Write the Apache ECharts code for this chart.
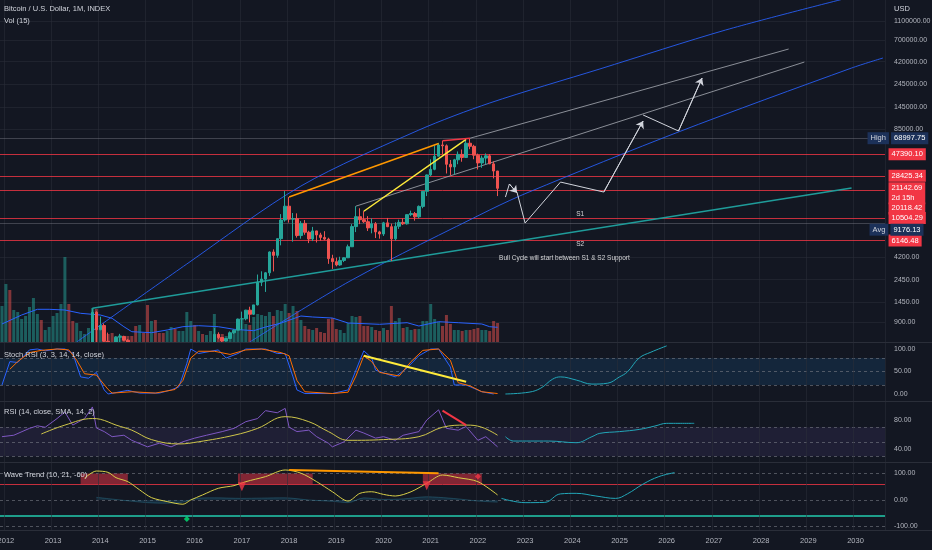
<!DOCTYPE html>
<html>
<head>
<meta charset="utf-8">
<title>Bitcoin / U.S. Dollar, 1M</title>
<script src="https://cdn.jsdelivr.net/npm/echarts@6.0.0/dist/echarts.min.js"></script>
<style>
    html, body { margin: 0; padding: 0; background: #131722; }
    #chart { width: 932px; height: 550px; }
</style>
</head>
<body>
<div id="chart"></div>
<script>
// ============================================================
// 数据
// ============================================================
const firstMonth = "2011-12";
const lastMonth = "2030-08";

// 月线 K 线，从 2011-12 起逐月：[open, close, low, high]
const ohlc = [
    [3.0, 4.7, 2.7, 4.8],
    [4.7, 5.5, 4.5, 7.4], [5.5, 4.9, 4.2, 6.2], [4.9, 4.9, 4.7, 5.4], [4.9, 5.0, 4.8, 5.3],
    [5.0, 5.2, 4.9, 5.3], [5.2, 6.7, 5.2, 6.7], [6.7, 9.4, 6.6, 9.6], [9.4, 10.2, 7.2, 16.4],
    [10.2, 12.4, 10.0, 12.7], [12.4, 11.2, 10.4, 12.6], [11.2, 12.6, 10.4, 12.8], [12.6, 13.5, 12.4, 13.9],
    [13.5, 20.4, 12.9, 20.4], [20.4, 33.4, 19.1, 33.4], [33.4, 93, 33, 95], [93, 139, 50, 266],
    [139, 129, 80, 140], [129, 97, 88, 129], [97, 106, 65, 111], [106, 136, 101, 136],
    [136, 141, 108, 145], [141, 206, 105, 218], [206, 1130, 198, 1242], [1130, 750, 520, 1160],
    [750, 828, 740, 1020], [828, 570, 420, 870], [570, 453, 445, 700], [453, 448, 360, 550],
    [448, 628, 420, 640], [628, 640, 550, 680], [640, 585, 575, 650], [585, 480, 440, 600],
    [480, 390, 375, 500], [390, 338, 300, 420], [338, 378, 320, 460], [378, 318, 310, 410],
    [318, 218, 165, 318], [218, 254, 210, 260], [254, 244, 235, 300], [244, 236, 215, 260],
    [236, 230, 225, 250], [230, 263, 220, 267], [263, 284, 252, 315], [284, 230, 200, 285],
    [230, 236, 225, 245], [236, 314, 235, 330], [314, 378, 300, 495], [378, 430, 350, 465],
    [430, 368, 355, 460], [368, 437, 365, 440], [437, 416, 395, 440], [416, 448, 413, 470],
    [448, 531, 437, 550], [531, 673, 530, 780], [673, 624, 600, 705], [624, 574, 470, 628],
    [574, 609, 570, 615], [609, 698, 605, 720], [698, 742, 680, 755], [742, 963, 742, 975],
    [963, 970, 750, 1150], [970, 1190, 935, 1200], [1190, 1080, 890, 1290], [1080, 1348, 1060, 1350],
    [1348, 2300, 1330, 2760], [2300, 2480, 2100, 2980], [2480, 2875, 1830, 2930], [2875, 4700, 2670, 4770],
    [4700, 4340, 2970, 5000], [4340, 6440, 4100, 6470], [6440, 10000, 5500, 11500], [10000, 13860, 9600, 19800],
    [13860, 10200, 9400, 17200], [10200, 10330, 6000, 11800], [10330, 6930, 6600, 11700], [6930, 9240, 6430, 9750],
    [9240, 7490, 7060, 9990], [7490, 6390, 5800, 7760], [6390, 7730, 6080, 8500], [7730, 7030, 5880, 7760],
    [7030, 6630, 6150, 7400], [6630, 6370, 6200, 7680], [6370, 4020, 3550, 6580], [4020, 3740, 3150, 4400],
    [3740, 3460, 3350, 4120], [3460, 3850, 3390, 4200], [3850, 4100, 3700, 4150], [4100, 5320, 4070, 5600],
    [5320, 8560, 5320, 9080], [8560, 10820, 7520, 13880], [10820, 10080, 9070, 13200], [10080, 9600, 9330, 12330],
    [9600, 8300, 7720, 10950], [8300, 9150, 7300, 10400], [9150, 7550, 6530, 9520], [7550, 7190, 6440, 7750],
    [7190, 9350, 6860, 9580], [9350, 8540, 8450, 10500], [8540, 6410, 3800, 9190], [6410, 8620, 6150, 9470],
    [8620, 9450, 8100, 10080], [9450, 9140, 8900, 10390], [9140, 11350, 8990, 11440], [11350, 11650, 10950, 12480],
    [11650, 10780, 9850, 12090], [10780, 13800, 10400, 14100], [13800, 19700, 13200, 19860], [19700, 28990, 17600, 29300],
    [28990, 33110, 28130, 41950], [33110, 45140, 32380, 58350], [45140, 58800, 44950, 61780], [58800, 57710, 47040, 64900],
    [57710, 37300, 30000, 59600], [37300, 35040, 28800, 41300], [35040, 41460, 29300, 42400], [41460, 47100, 37330, 50500],
    [47100, 43800, 39600, 52900], [43800, 61300, 43300, 67000], [61300, 57000, 53250, 69000], [57000, 46200, 42000, 59100],
    [46200, 38480, 32950, 47950], [38480, 43190, 34320, 45800], [43190, 45530, 37200, 48200], [45530, 37640, 37580, 47450],
    [37640, 31800, 26700, 40000], [31800, 21142.69, 17600, 31900],
];

// 成交量（相对高度），与 K 线逐月对应
const volume = [
    36, 58, 52, 32, 30, 23, 26, 35, 44, 28, 22, 12, 15,
    26, 29, 38, 85, 38, 21, 19, 11, 8, 14, 34, 33,
    17, 12, 8, 9, 6, 7, 6, 6, 6, 16, 17, 9,
    37, 21, 22, 9, 9, 11, 15, 13, 11, 11, 30, 21,
    17, 11, 8, 7, 11, 28, 8, 8, 6, 8, 10, 14,
    22, 18, 17, 25, 28, 27, 26, 30, 26, 32, 31, 38,
    29, 36, 31, 22, 16, 13, 12, 14, 10, 9, 23, 24,
    13, 12, 9, 19, 26, 25, 26, 16, 16, 15, 12, 11,
    14, 12, 36, 21, 24, 14, 15, 12, 13, 13, 21, 21,
    38, 23, 20, 16, 27, 18, 12, 12, 11, 12, 12, 13,
    14, 12, 12, 11, 21, 19,
];

const volumeMa = [
    ["2011-12", 18], ["2012-05", 27], ["2012-09", 32.7], ["2012-12", 32.7], ["2013-04", 32], ["2013-08", 28.7],
    ["2014-01", 27], ["2014-04", 23.7], ["2014-07", 15.3], ["2014-09", 10.3], ["2015-02", 9.3], ["2015-06", 12],
    ["2015-10", 15.3], ["2016-02", 16.3], ["2016-07", 15.3], ["2016-11", 12.7], ["2017-04", 11.3], ["2017-07", 15],
    ["2017-11", 19], ["2018-04", 26], ["2018-07", 25], ["2018-12", 24], ["2019-04", 19], ["2019-12", 17.7],
    ["2020-07", 19.3], ["2020-10", 16], ["2021-03", 20.3], ["2021-08", 19.3], ["2022-02", 18], ["2022-04", 15.3],
    ["2022-06", 14.7],
];

// 价格轴刻度与水平价位
const priceTicks = [1100000, 700000, 420000, 245000, 145000, 85000, 4200, 2450, 1450, 900];
const redLevels = [47390.10, 28425.34, 20118.42, 10504.29, 6146.48];
const highLevel = 68997.75;
const avgLevel = 9176.13;
const lastPrice = 21142.69;
const countdown = "2d 15h";

// 画线工具：[月份, 价格]
const blueUpper = [["2013-07", 561], ["2015-11", 3540], ["2018-04", 22300], ["2020-10", 83700],
    ["2022-04", 158500], ["2024-08", 354000], ["2027-04", 889000], ["2029-12", 1940000]];
const blueLower = [["2017-03", 561], ["2019-05", 2430], ["2022-04", 12670], ["2023-02", 19370],
    ["2026-04", 80000], ["2029-12", 362000], ["2030-08", 459000]];
const tealLine = [["2013-11", 1242], ["2029-12", 21300]];
const greyUpper = [["2021-11", 69000], ["2028-08", 567000]];
const greyLower = [["2019-06", 13880], ["2028-12", 417000]];
const orangeLine = [["2018-01", 17200], ["2021-03", 61000]];
const yellowLine = [["2019-08", 12300], ["2021-10", 67000]];
const redLine = [["2021-04", 64900], ["2021-11", 69000]];

// 预测路径（白色箭头）
const pathA = [["2022-08", 17200], ["2022-09", 23400], ["2022-11", 18900]];
const pathB = [["2022-11", 18900], ["2023-01", 9310], ["2023-10", 24500], ["2024-09", 19360], ["2025-07", 103600]];
const pathC = [["2025-07", 119400], ["2026-04", 81800], ["2026-10", 286000]];

const notes = [
    { name: "S1", value: ["2024-03", 11530] },
    { name: "S2", value: ["2024-03", 5675] },
    { name: "Bull Cycle will start between S1 & S2 Support", value: ["2023-11", 4075] },
];

// Stoch RSI
const stochK = [
    ["2011-12", 20], ["2012-02", 72], ["2012-04", 70], ["2012-07", 98], ["2012-09", 100], ["2012-11", 96],
    ["2013-02", 100], ["2013-04", 100], ["2013-06", 90], ["2013-08", 38], ["2013-10", 35], ["2013-12", 48],
    ["2014-02", 9], ["2014-03", 0], ["2014-08", 8], ["2014-11", 2], ["2015-04", 2], ["2015-07", 9],
    ["2015-09", 16], ["2015-11", 68], ["2015-12", 100], ["2016-02", 90], ["2016-07", 98], ["2016-09", 80],
    ["2016-12", 90], ["2017-02", 100], ["2017-07", 100], ["2017-10", 90], ["2017-12", 90], ["2018-02", 38],
    ["2018-03", 9], ["2018-05", 1], ["2018-12", 1], ["2019-04", 9], ["2019-07", 75], ["2019-08", 96],
    ["2019-10", 80], ["2019-11", 53], ["2020-04", 38], ["2020-07", 58], ["2020-10", 85], ["2021-01", 100],
    ["2021-03", 100], ["2021-06", 60], ["2021-07", 20], ["2021-10", 20], ["2022-02", 5], ["2022-05", 0],
];
const stochD = [
    ["2012-02", 55], ["2012-04", 72], ["2012-07", 92], ["2012-10", 97], ["2013-02", 100], ["2013-05", 98],
    ["2013-07", 75], ["2013-09", 45], ["2013-12", 42], ["2014-03", 10], ["2014-04", 2], ["2014-09", 5],
    ["2015-03", 2], ["2015-08", 10], ["2015-10", 30], ["2015-12", 80], ["2016-02", 95], ["2016-06", 95],
    ["2016-10", 88], ["2017-02", 98], ["2017-06", 100], ["2017-11", 92], ["2018-01", 85], ["2018-03", 30],
    ["2018-05", 5], ["2018-12", 1], ["2019-04", 4], ["2019-06", 40], ["2019-08", 85], ["2019-10", 72],
    ["2019-12", 48], ["2020-05", 40], ["2020-08", 72], ["2020-11", 97], ["2021-03", 100], ["2021-06", 75],
    ["2021-08", 25], ["2021-11", 18], ["2022-02", 5], ["2022-06", 1],
];
const stochTrend = [["2019-08", 85], ["2021-10", 27]];
const stochProj = [["2022-08", 0], ["2023-02", 4], ["2023-05", 13], ["2023-08", 33], ["2023-10", 38],
    ["2024-02", 31], ["2024-06", 22], ["2024-10", 24], ["2025-01", 38], ["2025-03", 49], ["2025-06", 80],
    ["2025-09", 93], ["2026-01", 107]];

// RSI
const rsi = [
    ["2011-12", 57], ["2012-03", 59], ["2012-07", 68.5], ["2012-09", 72], ["2012-11", 70], ["2013-02", 82],
    ["2013-04", 91], ["2013-06", 73], ["2013-09", 82], ["2013-11", 98], ["2013-12", 69], ["2014-02", 64],
    ["2014-04", 57], ["2014-07", 59], ["2014-09", 52], ["2015-01", 43], ["2015-04", 48], ["2015-07", 43],
    ["2015-10", 50], ["2016-01", 55], ["2016-04", 59], ["2016-08", 64], ["2016-11", 68.5], ["2017-02", 77.7],
    ["2017-05", 82], ["2017-07", 92.9], ["2017-10", 90], ["2017-12", 96], ["2018-01", 70], ["2018-03", 64],
    ["2018-06", 66], ["2018-08", 57], ["2018-11", 48], ["2018-12", 43], ["2019-03", 50], ["2019-06", 66],
    ["2019-08", 62], ["2019-11", 55], ["2020-01", 57], ["2020-04", 52], ["2020-06", 59], ["2020-10", 64],
    ["2020-12", 80], ["2021-03", 94], ["2021-05", 68.5], ["2021-08", 66], ["2021-10", 71], ["2022-01", 52],
    ["2022-03", 57], ["2022-06", 43],
];
const rsiSma = [
    ["2012-10", 60.7], ["2013-04", 73], ["2013-11", 82], ["2014-01", 81], ["2014-05", 73], ["2014-09", 66],
    ["2015-02", 53], ["2015-09", 47], ["2016-02", 50], ["2016-11", 59], ["2017-05", 68.5], ["2017-12", 84.6],
    ["2018-06", 77.7], ["2018-11", 64], ["2019-04", 52], ["2020-01", 53], ["2020-10", 57], ["2021-04", 70],
    ["2021-10", 73], ["2022-02", 70], ["2022-06", 59],
];
const rsiTrend = [["2021-04", 93], ["2021-10", 73]];
const rsiProj = [["2022-08", 57], ["2022-10", 51], ["2023-07", 51], ["2024-02", 48.7], ["2024-06", 57],
    ["2024-08", 61.6], ["2025-01", 64], ["2025-06", 67], ["2025-10", 71.7], ["2026-01", 75.4], ["2026-08", 75.4]];

// Wave Trend
const waveTrend = [
    ["2013-09", 82], ["2013-12", 109], ["2014-03", 104], ["2014-05", 84], ["2014-08", 69], ["2014-11", 38],
    ["2015-02", 9], ["2015-06", -6], ["2015-10", -16], ["2015-12", 0], ["2016-03", 19], ["2016-07", 44],
    ["2016-11", 54], ["2017-02", 69], ["2017-07", 88], ["2017-12", 113], ["2018-04", 101], ["2018-08", 69],
    ["2018-12", 31], ["2019-04", -4], ["2019-07", 25], ["2019-10", 31], ["2020-01", 21], ["2020-04", 15],
    ["2020-08", 31], ["2020-12", 63], ["2021-04", 94], ["2021-08", 84], ["2022-01", 69], ["2022-06", 19],
];
const waveHist = [
    ["2013-12", 10], ["2014-03", 5], ["2014-08", -3], ["2015-01", -10], ["2015-06", -12], ["2015-10", -8],
    ["2016-01", 5], ["2016-06", 8], ["2017-01", 6], ["2017-06", 7], ["2017-12", 8], ["2018-06", 0],
    ["2018-12", -5], ["2019-04", -10], ["2019-08", 8], ["2020-01", 2], ["2020-06", 4], ["2020-12", 12],
    ["2021-03", 10], ["2021-08", 4], ["2022-01", -4], ["2022-06", -8],
];
const waveTrendLine = [["2018-01", 113], ["2021-03", 101]];
const waveProj = [["2022-07", 6], ["2023-01", -10], ["2023-06", -9], ["2023-10", 23], ["2024-02", 25],
    ["2024-07", 15], ["2024-12", 6], ["2025-03", 23], ["2025-07", 60], ["2025-11", 88], ["2026-03", 103]];
const waveZones = [["2013-08", "2014-08"], ["2016-12", "2018-07"], ["2020-11", "2022-02"]];
const waveSell = [["2017-01", 50], ["2020-12", 54]];
const waveRedDot = [["2022-01", 88]];
const waveGreenDot = [["2015-11", -72]];

// ============================================================
// 绘图
// ============================================================
const FONT = "'Liberation Sans Narrow', 'Liberation Sans', Arial, sans-serif";
const TEXT = "#b2b5be";
const BG = "#131722";
const UP = "#26a69a", DOWN = "#ef5350";
const GRID_LINE = "rgba(42,46,57,0.55)";
const PANE_Z = 6; // 下方指标窗格的层级，高于被遮挡的 K 线

function buildMonths(from, to) {
    let [y, m] = from.split("-").map(Number);
    const out = [];
    for (;;) {
        const s = y + "-" + String(m).padStart(2, "0");
        out.push(s);
        if (s === to) break;
        m++;
        if (m > 12) { m = 1; y++; }
    }
    return out;
}
const months = buildMonths(firstMonth, lastMonth);
const isJan = (i, v) => String(v).slice(5) === "01";

const grids = [
    { top: 0, height: 342 },   // price
    { top: 245, height: 97 },  // volume overlay
    { top: 342, height: 59 },  // stoch rsi
    { top: 401, height: 61 },  // rsi
    { top: 462, height: 68 },  // wave trend
].map((g) => Object.assign({ left: 0, right: 47, outerBoundsMode: "none", containLabel: false }, g));

const xAxes = grids.map((g, i) => ({
    type: "category",
    gridIndex: i,
    data: months,
    z: i >= 2 ? PANE_Z + 1 : 0,
    axisLine: { show: false },
    axisTick: { show: false },
    axisLabel: i === 4 ? {
        interval: isJan, formatter: (v) => v.slice(0, 4),
        color: TEXT, fontSize: 7.5, fontFamily: FONT, margin: 7,
    } : { show: false },
    splitLine: { show: i !== 1, interval: isJan, lineStyle: { color: GRID_LINE } },
}));

const sideLabel = (values) => ({
    customValues: values, formatter: (v) => Number(v).toFixed(2),
    color: TEXT, fontSize: 7, fontFamily: FONT, margin: 9,
});

const yAxes = [
    {
        type: "log", gridIndex: 0, position: "right", min: 561, max: 1804600,
        axisLine: { show: false }, axisTick: { show: false, customValues: priceTicks },
        axisLabel: sideLabel(priceTicks),
        splitLine: { show: true, lineStyle: { color: GRID_LINE } },
    },
    { type: "value", gridIndex: 1, min: 0, max: 97, show: false },
    {
        type: "value", gridIndex: 2, position: "right", min: -15.6, max: 115.6,
        axisLine: { show: false }, axisTick: { show: false }, axisLabel: sideLabel([0, 50, 100]),
        splitLine: { show: false },
    },
    {
        type: "value", gridIndex: 3, position: "right", min: 22.1, max: 106.2,
        axisLine: { show: false }, axisTick: { show: false }, axisLabel: sideLabel([40, 80]),
        splitLine: { show: false },
    },
    {
        type: "value", gridIndex: 4, position: "right", min: -113, max: 143,
        axisLine: { show: false }, axisTick: { show: false }, axisLabel: sideLabel([-100, 0, 100]),
        splitLine: { show: false },
    },
];

function line(data, color, width, gi, extra) {
    return Object.assign({
        type: "line", xAxisIndex: gi, yAxisIndex: gi, data: data,
        symbol: "none", silent: true, z: gi >= 2 ? PANE_Z + 1 : 3, clip: true,
        lineStyle: { color: color, width: width },
    }, extra || {});
}

function arrowPath(path) {
    const n = path.length;
    return line(path, "#d1d4dc", 1, 0, {
        z: 5,
        markLine: {
            silent: true, symbol: ["none", "arrow"], symbolSize: 7,
            label: { show: false },
            lineStyle: { color: "#d1d4dc", width: 1, type: "solid" },
            data: [[{ coord: path[n - 2] }, { coord: path[n - 1] }]],
        },
    });
}

const dashed = { color: "rgba(120,123,134,0.6)", width: 1, type: [3, 3] };

// 价位线和右侧价格标签
const levelLines = redLevels.map((v) => ({
    yAxis: v, lineStyle: { color: "rgba(242,54,69,0.8)", width: 1, type: "solid" },
}));
levelLines.push({ yAxis: highLevel, lineStyle: { color: "rgba(120,123,134,0.45)", width: 1, type: "solid" } });
levelLines.push({ yAxis: avgLevel, lineStyle: { color: "rgba(120,123,134,0.45)", width: 1, type: "solid" } });

const tagBase = {
    show: true, position: "right", distance: 5, color: "#ffffff",
    fontSize: 7.5, fontFamily: FONT, padding: [2, 3], lineHeight: 8,
};
const tagShift = [0, 0, 18, 0, 0];
const priceTags = redLevels.map((v, i) => ({
    coord: [lastMonth, v],
    label: Object.assign({}, tagBase, {
        formatter: v.toFixed(2), backgroundColor: "#f23645", offset: [0, tagShift[i]],
    }),
}));
priceTags.push({
    coord: [lastMonth, lastPrice],
    label: Object.assign({}, tagBase, {
        formatter: lastPrice.toFixed(2) + "\n" + countdown, backgroundColor: "#f23645",
        lineHeight: 10, padding: [1, 3], offset: [0, 5],
    }),
});
const navyRich = () => ({
    t: { backgroundColor: "#1c3159", color: "#d1d4dc", padding: [2, 3], fontSize: 7.5, fontFamily: FONT, lineHeight: 8 },
    v: { backgroundColor: "#1c3159", color: "#ffffff", padding: [2, 3], fontSize: 7.5, fontFamily: FONT, lineHeight: 8 },
});
priceTags.push({
    coord: [lastMonth, highLevel],
    label: Object.assign({}, tagBase, {
        formatter: "{t|High} {v|" + highLevel.toFixed(2) + "}", rich: navyRich(), padding: 0, offset: [-21, 0],
    }),
});
priceTags.push({
    coord: [lastMonth, avgLevel],
    label: Object.assign({}, tagBase, {
        formatter: "{t|Avg} {v|" + avgLevel.toFixed(2) + "}", rich: navyRich(), padding: 0, offset: [-19, 6],
    }),
});

const series = [
    {
        type: "candlestick", xAxisIndex: 0, yAxisIndex: 0, data: ohlc, barWidth: 3, z: 4, clip: true,
        itemStyle: { color: UP, color0: DOWN, borderColor: UP, borderColor0: DOWN, borderWidth: 1 },
        markLine: { silent: true, symbol: "none", label: { show: false }, data: levelLines, z: 2 },
        markPoint: {
            silent: true, symbol: "rect", symbolSize: 1, itemStyle: { color: "rgba(0,0,0,0)" },
            data: priceTags, z: 10,
        },
    },
    {
        type: "bar", xAxisIndex: 1, yAxisIndex: 1, barWidth: 3, silent: true, z: 1,
        data: volume.map((v, i) => ({
            value: v,
            itemStyle: { color: ohlc[i][1] >= ohlc[i][0] ? "rgba(38,166,154,0.5)" : "rgba(239,83,80,0.5)" },
        })),
    },
    line(volumeMa, "#2962ff", 1, 1, { z: 2 }),

    line(blueUpper, "rgba(41,98,255,0.85)", 1, 0, { smooth: 0.3 }),
    line(blueLower, "rgba(41,98,255,0.85)", 1, 0, { smooth: 0.3 }),
    line(tealLine, "#1f9c9a", 1.5, 0),
    line(greyUpper, "rgba(178,181,190,0.75)", 1, 0),
    line(greyLower, "rgba(178,181,190,0.75)", 1, 0),
    line(orangeLine, "#ff9800", 1.5, 0, { z: 5 }),
    line(yellowLine, "#ffeb3b", 1.5, 0, { z: 5 }),
    line(redLine, "#f23645", 1.5, 0, { z: 5 }),
    arrowPath(pathA),
    arrowPath(pathB),
    arrowPath(pathC),
    {
        type: "scatter", xAxisIndex: 0, yAxisIndex: 0, data: notes, silent: true,
        symbolSize: 1, itemStyle: { color: "rgba(0,0,0,0)" }, z: 6,
        label: {
            show: true, position: "inside", formatter: "{b}", color: "#ffffff",
            fontSize: 6.5, fontFamily: FONT,
        },
    },

    // Stoch RSI
    line(stochK, "#2962ff", 1, 2, {
        markArea: { silent: true, z: PANE_Z, itemStyle: { color: "rgba(33,150,243,0.12)" }, data: [[{ yAxis: 20 }, { yAxis: 80 }]] },
        markLine: { silent: true, z: PANE_Z, symbol: "none", label: { show: false }, lineStyle: dashed,
            data: [{ yAxis: 80 }, { yAxis: 50 }, { yAxis: 20 }] },
    }),
    line(stochD, "#ff6d00", 1, 2),
    line(stochTrend, "#ffeb3b", 2, 2, { z: PANE_Z + 2 }),
    line(stochProj, "#22a6b8", 1, 2, { smooth: 0.4 }),

    // RSI
    line(rsi, "#7e57c2", 1, 3, {
        markArea: { silent: true, z: PANE_Z, itemStyle: { color: "rgba(126,87,194,0.12)" }, data: [[{ yAxis: 30 }, { yAxis: 70 }]] },
        markLine: { silent: true, z: PANE_Z, symbol: "none", label: { show: false }, lineStyle: dashed,
            data: [{ yAxis: 70 }, { yAxis: 50 }, { yAxis: 30 }] },
    }),
    line(rsiSma, "#cfc64a", 1, 3, { smooth: 0.4 }),
    line(rsiTrend, "#f23645", 2, 3, { z: PANE_Z + 2 }),
    line(rsiProj, "#22a6b8", 1, 3, { smooth: 0.4 }),

    // Wave Trend
    line(waveHist, "rgba(43,111,134,0.8)", 0.6, 4, {
        smooth: 0.3, areaStyle: { color: "rgba(33,110,150,0.35)", origin: 0 }, z: PANE_Z,
    }),
    line(waveTrend, "#d8cf48", 1, 4, {
        smooth: 0.3,
        markArea: {
            silent: true, z: PANE_Z, itemStyle: { color: "rgba(242,54,69,0.5)" },
            data: waveZones.map((z) => [{ xAxis: z[0], yAxis: 60 }, { xAxis: z[1], yAxis: 100 }]),
        },
        markLine: {
            silent: true, z: PANE_Z, symbol: "none", label: { show: false },
            data: [
                { yAxis: 100, lineStyle: dashed },
                { yAxis: 0, lineStyle: dashed },
                { yAxis: -100, lineStyle: dashed },
                { yAxis: 60, lineStyle: { color: "rgba(242,54,69,0.8)", width: 1, type: "solid" } },
                { yAxis: -60, lineStyle: { color: "#1e9e8a", width: 2, type: "solid" } },
            ],
        },
    }),
    line(waveTrendLine, "#ff9800", 2, 4, { z: PANE_Z + 2 }),
    line(waveProj, "#22a6b8", 1, 4, { smooth: 0.4 }),
    {
        type: "scatter", xAxisIndex: 4, yAxisIndex: 4, data: waveSell, silent: true, z: PANE_Z + 3,
        symbol: "triangle", symbolRotate: 180, symbolSize: [8, 9], itemStyle: { color: "#f23645" },
    },
    {
        type: "scatter", xAxisIndex: 4, yAxisIndex: 4, data: waveRedDot, silent: true, z: PANE_Z + 3,
        symbol: "diamond", symbolSize: 6, itemStyle: { color: "#f23645" },
    },
    {
        type: "scatter", xAxisIndex: 4, yAxisIndex: 4, data: waveGreenDot, silent: true, z: PANE_Z + 3,
        symbol: "diamond", symbolSize: 6, itemStyle: { color: "#00e676" },
    },
];

const titleStyle = { color: "#d1d4dc", fontSize: 7.5, fontWeight: "normal", fontFamily: FONT };
const titles = [
    ["Bitcoin / U.S. Dollar, 1M, INDEX", 4, 5],
    ["Vol (15)", 4, 17],
    ["Stoch RSI (3, 3, 14, 14, close)", 4, 351],
    ["RSI (14, close, SMA, 14, 2)", 4, 408],
    ["Wave Trend (10, 21, -60)", 4, 471],
    ["USD", 894, 5],
].map(([text, left, top]) => ({ text, left, top, padding: 0, z: PANE_Z + 4, textStyle: titleStyle }));

// 价格窗格下沿以下用底色遮住越界的 K 线，再画窗格分隔线
const graphics = [{
    type: "rect", silent: true, z: 5,
    shape: { x: 0, y: 342.5, width: 885, height: 208 },
    style: { fill: BG },
}].concat([342, 401, 462, 530].map((y) => ({
    type: "line", silent: true, z: PANE_Z + 1,
    shape: { x1: 0, y1: y + 0.5, x2: 932, y2: y + 0.5 },
    style: { stroke: "#2a2e39", lineWidth: 1 },
})));

const chart = echarts.init(document.getElementById("chart"));
chart.setOption({
    backgroundColor: BG,
    animation: false,
    textStyle: { fontFamily: FONT },
    title: titles,
    grid: grids,
    xAxis: xAxes,
    yAxis: yAxes,
    series: series,
    graphic: graphics,
});
</script>
</body>
</html>
